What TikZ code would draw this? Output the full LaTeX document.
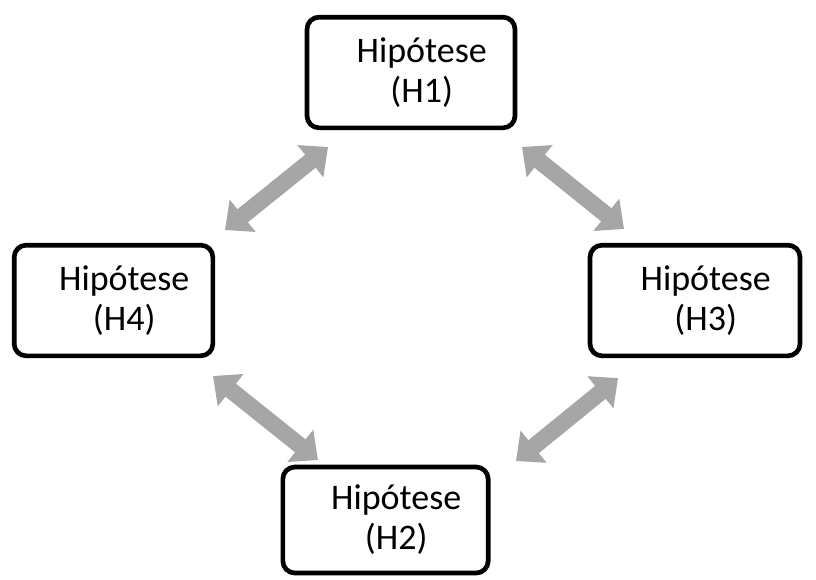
\documentclass[tikz,border=0pt]{standalone}
\usepackage{fontspec}
\setmainfont{Carlito}
\usepackage{tikz}
\usetikzlibrary{arrows.meta}
\definecolor{arrowgray}{HTML}{A6A6A6}
\tikzset{
	% box for a hypothesis, its text is put as a centred label
	hyp node/.style={draw,line width=3.5pt,rounded corners=9pt,minimum height=83pt,inner sep=0pt},
	hyp text/.style={align=center,font=\fontsize{27}{30}\selectfont,xshift=8pt,inner sep=0pt},
	% thick grey arrow with a head at both ends
	both arrow/.style={draw=arrowgray,line width=12.5pt,
		{Triangle[length=17pt,width=30pt]}-{Triangle[length=17pt,width=30pt]}}
}

\begin{document}
\begin{tikzpicture}[x=0.75pt,y=-0.75pt]
			\useasboundingbox (0,0) rectangle (816,579);
			% the four hypotheses
			\node[hyp node,minimum width=156pt,label={[hyp text]center:{Hipótese\\(H1)}}] (H1) at (411,72.5) {};
			\node[hyp node,minimum width=149pt,label={[hyp text]center:{Hipótese\\(H4)}}] (H4) at (113.5,300.5) {};
			\node[hyp node,minimum width=157.5pt,label={[hyp text]center:{Hipótese\\(H3)}}] (H3) at (695,300.5) {};
			\node[hyp node,minimum width=154pt,minimum height=79.5pt,label={[hyp text]center:{Hipótese\\(H2)}}] (H2) at (385.5,520) {};
			% arrow ends
			\coordinate (H4-H1a) at (225,230);
			\coordinate (H4-H1b) at (328,147);
			\coordinate (H1-H3a) at (522,147);
			\coordinate (H1-H3b) at (624,229);
			\coordinate (H4-H2a) at (213,376);
			\coordinate (H4-H2b) at (318,460);
			\coordinate (H3-H2a) at (618,378);
			\coordinate (H3-H2b) at (516,461);
			\draw[both arrow] (H4-H1a) -- (H4-H1b);
			\draw[both arrow] (H1-H3a) -- (H1-H3b);
			\draw[both arrow] (H4-H2a) -- (H4-H2b);
			\draw[both arrow] (H3-H2a) -- (H3-H2b);
		\end{tikzpicture}
\end{document}
